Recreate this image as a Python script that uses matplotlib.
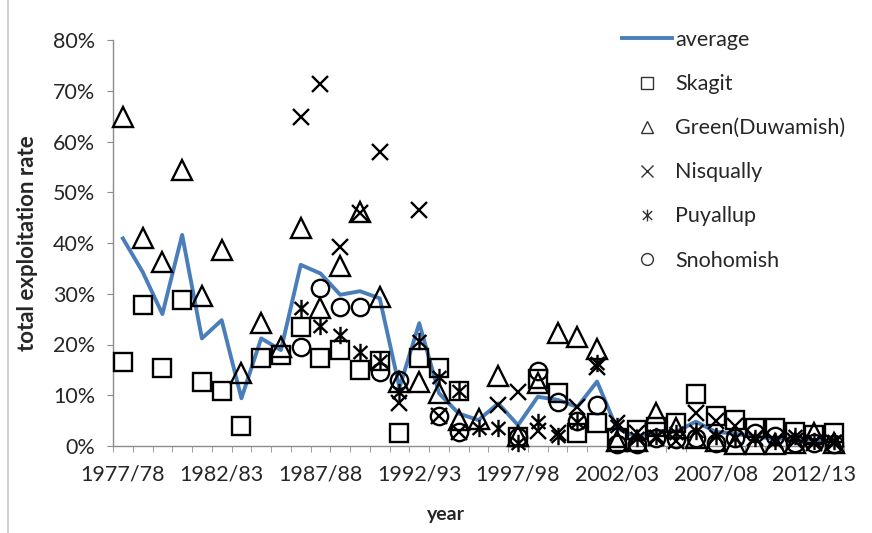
import numpy as np
import matplotlib
matplotlib.use("Agg")
import matplotlib.pyplot as plt
from matplotlib.path import Path
from matplotlib.lines import Line2D
from matplotlib.ticker import PercentFormatter

plt.rcParams['font.family'] = ['Lato', 'DejaVu Sans']

nan = np.nan

seasons = ["1977/78", "1978/79", "1979/80", "1980/81", "1981/82", "1982/83",
           "1983/84", "1984/85", "1985/86", "1986/87", "1987/88", "1988/89",
           "1989/90", "1990/91", "1991/92", "1992/93", "1993/94", "1994/95",
           "1995/96", "1996/97", "1997/98", "1998/99", "1999/00", "2000/01",
           "2001/02", "2002/03", "2003/04", "2004/05", "2005/06", "2006/07",
           "2007/08", "2008/09", "2009/10", "2010/11", "2011/12", "2012/13",
           "2013/14"]

# exploitation rates in percent
average = [40.9, 34.3, 26.0, 41.6, 21.2, 24.8, 9.4, 21.2, 18.9, 35.7,
           34.0, 29.8, 30.5, 29.1, 11.5, 24.2, 10.4, 6.4, 5.1, 8.4,
           4.1, 9.7, 9.1, 7.7, 12.7, 3.5, 1.8, 3.0, 2.8, 4.8,
           2.8, 2.4, 1.8, 1.5, 1.4, 1.2, 1.0]

skagit = [16.6, 27.8, 15.3, 28.8, 12.7, 10.8, 4.0, 17.3, 17.9, 23.5,
          17.3, 18.9, 15.0, 16.8, 2.5, 17.3, 15.3, 10.8, nan, nan,
          1.8, 13.2, 10.4, 2.5, 4.5, 1.5, 3.2, 3.8, 4.5, 10.2,
          6.0, 5.1, 3.5, 3.5, 2.8, 2.2, 2.5]

green = [64.9, 40.9, 36.3, 54.4, 29.6, 38.6, 14.3, 24.3, 19.6, 42.9,
         27.1, 35.5, 46.2, 29.4, 12.7, 12.7, 10.4, 5.1, 5.3, 13.7,
         2.0, 12.5, 22.3, 21.5, 19.2, 1.0, 1.0, 6.6, 3.5, 1.5,
         1.0, 0.3, 0.3, 0.3, 0.5, 2.5, 0.5]

nisqually = [nan, nan, nan, nan, nan, nan, nan, nan, nan, 64.9,
             71.3, 39.3, 46.0, 57.9, 8.4, 46.5, 6.0, 2.8, nan, 8.1,
             10.7, 3.0, 2.5, 7.7, 15.5, 4.5, 2.5, 1.5, 1.0, 6.5,
             5.0, 4.0, 1.5, 1.0, 1.0, 0.5, 0.5]

puyallup = [nan, nan, nan, nan, nan, nan, nan, nan, nan, 27.1,
            23.6, 21.9, 18.5, 16.8, 10.7, 20.7, 13.5, 10.8, 3.5, 3.5,
            0.5, 4.8, 2.0, 4.8, 16.3, 4.0, 1.6, 2.0, 2.5, 3.0,
            2.0, 1.5, 1.5, 1.0, 2.0, 1.0, 1.0]

snohomish = [nan, nan, nan, nan, nan, nan, nan, nan, nan, 19.6,
             31.1, 27.4, 27.4, 14.6, 13.0, nan, 6.0, 2.8, nan, nan,
             1.8, 14.8, 8.7, 5.0, 8.0, 0.3, 0.3, 1.5, 1.3, 1.5,
             0.5, 1.5, 2.5, 2.0, 0.5, 0.5, 0.3]

labels = ["average", "Skagit", "Green(Duwamish)", "Nisqually", "Puyallup", "Snohomish"]

BLUE = '#4a7ebb'
AXC = '#8c8c8c'
TXT = '#262626'

# asterisk marker: X with vertical bar
ast_path = Path([(-0.8, -0.75), (0.8, 0.75), (-0.8, 0.75), (0.8, -0.75), (0, -1), (0, 1)],
                [Path.MOVETO, Path.LINETO, Path.MOVETO, Path.LINETO, Path.MOVETO, Path.LINETO])

markers = ['s', '^', 'x', ast_path, 'o']
sizes = [13, 14, 12, 12.5, 12.5]
series = [skagit, green, nisqually, puyallup, snohomish]

fig = plt.figure(figsize=(8.72, 5.33), dpi=100)
ax = fig.add_axes([113/872, 1-446/533, (844-113)/872, (446-40)/533])

x = np.arange(len(seasons))
ax.plot(x, average, color=BLUE, lw=2.8, zorder=2)
for s, m, ms in zip(series, markers, sizes):
    ax.plot(x, s, ls='none', marker=m, ms=ms, mfc='none', mec='black',
            mew=1.7, clip_on=False, zorder=3)

ax.set_xlim(-0.5, len(seasons) - 0.5)
ax.set_ylim(0, 80)
for sp in ['top', 'right']:
    ax.spines[sp].set_visible(False)
for sp in ['left', 'bottom']:
    ax.spines[sp].set_color(AXC)
    ax.spines[sp].set_linewidth(1.0)

FS = 15.5
ax.set_yticks(np.arange(0, 81, 10))
ax.yaxis.set_major_formatter(PercentFormatter(xmax=100, decimals=0))
ax.tick_params(axis='y', direction='out', length=4, color=AXC, labelsize=FS,
               labelcolor=TXT, pad=9)

ax.set_xticks(x[::5])
ax.set_xticklabels(seasons[::5])
ax.set_xticks(np.arange(-0.5, len(seasons), 1), minor=True)
ax.tick_params(axis='x', which='major', length=0, labelsize=FS, labelcolor=TXT, pad=13)
ax.tick_params(axis='x', which='minor', direction='out', length=4.5, color=AXC)

ax.set_ylabel('total exploitation rate', fontsize=16, fontweight='bold', color=TXT)
ax.yaxis.set_label_coords((38-113)/731, 0.5)
ax.set_xlabel('year', fontsize=14, fontweight='bold', color=TXT)
ax.xaxis.set_label_coords((446-113)/731, (446-506)/406)

handles = [Line2D([], [], color=BLUE, lw=2.8)]
leg_sizes = [8, 9, 8, 8.5, 8.5]
for m, ms in zip(markers, leg_sizes):
    handles.append(Line2D([], [], ls='none', marker=m, ms=ms, mfc='none',
                          mec='#333333', mew=1.0))
ax.legend(handles, labels, loc='upper left', bbox_to_anchor=(622/872, 1-30/533),
          bbox_transform=fig.transFigure, frameon=False, fontsize=FS,
          handlelength=2.33, handletextpad=0.15, labelspacing=1.12,
          borderpad=0, borderaxespad=0, labelcolor=TXT)

fig.add_artist(Line2D([8/872, 8/872], [0, 1], color='#c8c8c8', lw=1.2,
                      transform=fig.transFigure))

fig.savefig('out.png', dpi=100)
